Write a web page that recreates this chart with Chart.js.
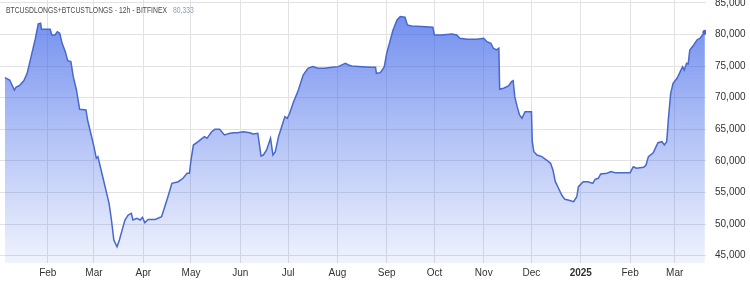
<!DOCTYPE html>
<html>
<head>
<meta charset="utf-8">
<script src="https://cdn.jsdelivr.net/npm/chart.js@4.4.1/dist/chart.umd.min.js"></script>
<style>
  html, body { margin: 0; padding: 0; background: #ffffff; }
  #wrap { width: 750px; height: 283px; position: relative; }
</style>
</head>
<body>
<div id="wrap"><canvas id="c" width="750" height="283"></canvas></div>
<script>
// ---- DATA ----
const seriesName = 'BTCUSDLONGS+BTCUSTLONGS - 12h - BITFINEX';
// days since 2024-01-01 (12h resolution)
const dayOffsets = [
  4, 7, 8.5, 10, 11, 13.5, 16, 18, 20.5, 23, 25, 26.5, 27, 32.5, 33.5, 35.5, 37, 38.5, 40, 42,
  43.5, 45.5, 47, 49, 51, 55, 56, 58, 60, 61.5, 62.5, 64, 66, 68, 69.5, 71, 72.5, 74.5, 76, 78,
  79.5, 81.5, 83.5, 84.5, 87, 89, 90.5, 92, 94, 98.5, 102.5, 104.5, 106.5, 109, 113, 116, 118.5, 120, 121, 122.5,
  125.5, 128, 129.5, 131, 134, 136, 139, 142, 145.5, 148, 150, 154, 158, 160, 163, 165, 166.5, 168.5, 171, 172.5,
  174, 176, 178, 180, 181.5, 183, 185.5, 188.5, 191.5, 194.5, 197.5, 201, 205, 209.5, 213.5, 218, 220, 222, 228.5, 234.5,
  237, 237.5, 240, 241.5, 242.5, 244, 246, 248, 250.5, 252.5, 255.5, 257, 259.5, 266, 273, 274, 278.5, 285, 288, 290,
  294.5, 300.5, 305, 307, 309.5, 311, 313, 314.5, 315, 317.5, 320.5, 322.5, 323.5, 324.5, 326, 327.5, 329, 331, 335, 335.5,
  336.5, 338.5, 341.5, 344.5, 347, 348.5, 350, 352, 354, 356, 358, 361.5, 363.5, 364.5, 367.5, 370.5, 373.5, 375, 377, 378.5,
  382.5, 385, 387.5, 397, 399, 401, 405.5, 407, 408.5, 411.5, 414.5, 417, 418.5, 420, 421, 422.5, 424, 426.5, 428.5, 430,
  431, 432.5, 433.5, 434.5, 437, 439, 441, 442.5, 444
];
const longs = [
  73170, 72800, 72000, 71200, 71650, 72000, 72700, 73850, 76500, 79130, 81660, 81770, 80820, 80820, 79920, 79920, 80440, 80190, 78600, 77280,
  75850, 75700, 73320, 71220, 68160, 68050, 66470, 64370, 62250, 60410, 60670, 59080, 56980, 54870, 53290, 50650, 47480, 46420, 47480, 49330,
  50650, 51440, 51700, 50650, 50910, 50650, 51070, 50220, 50750, 50750, 51170, 52750, 54330, 56450, 56710, 57250, 58040, 58040, 60140, 62510,
  63040, 63570, 63830, 63570, 64620, 65000, 65000, 64100, 64370, 64460, 64460, 64620, 64460, 64250, 64370, 60780, 60930, 61720, 63570, 60930,
  61450, 63830, 65410, 67000, 66740, 67530, 69370, 71220, 73590, 74650, 74910, 74650, 74650, 74810, 74910, 75440, 75170, 75010, 74910, 74810,
  74810, 73860, 73960, 74490, 74910, 77020, 78860, 80710, 82290, 82820, 82720, 81500, 81340, 81240, 81140, 79920, 79920, 80080, 79920, 79400,
  79240, 79240, 79400, 78860, 78610, 77820, 77550, 77820, 71330, 71490, 71850, 72530, 72690, 70160, 68580, 67260, 66740, 67780, 67780, 63040,
  61450, 60930, 60670, 60140, 59620, 58560, 56710, 55670, 54600, 53920, 53810, 53540, 54330, 55920, 56710, 56710, 56450, 57090, 57250, 57930,
  58040, 58300, 58130, 58130, 59080, 58830, 58990, 59350, 60670, 61290, 62880, 63040, 62520, 63040, 66470, 70690, 72280, 73070, 74110, 74910,
  74380, 75440, 75330, 77550, 78340, 79130, 79400, 79920, 80333
];
// month ticks (days since 2024-01-01)
const tickDays = [31, 60, 91, 121, 152, 182, 213, 244, 274, 305, 335, 366, 397, 425];
const tickLabels = ['Feb', 'Mar', 'Apr', 'May', 'Jun', 'Jul', 'Aug', 'Sep', 'Oct', 'Nov', 'Dec', '2025', 'Feb', 'Mar'];
const yTicks = [45000, 50000, 55000, 60000, 65000, 70000, 75000, 80000, 85000];

// ---- CHART ----
Chart.defaults.font.family = "'Liberation Sans', Arial, sans-serif";
const points = dayOffsets.map((d, i) => ({ x: d, y: longs[i] }));
const lastIndex = points.length - 1;
const lineColor = '#4868cc';
const fmt = v => Number(v).toLocaleString('en-US');

const titlePlugin = {
  id: 'titleText',
  afterDraw(chart) {
    const c = chart.ctx;
    c.save();
    c.font = "9px 'Liberation Sans', Arial, sans-serif";
    c.textBaseline = 'middle';
    const w = c.measureText(seriesName).width;
    const sx = 161 / w;
    c.translate(6, 11);
    c.scale(sx, 1);
    c.fillStyle = '#4a4a4a';
    c.fillText(seriesName, 0, 0);
    c.fillStyle = '#8f9dbb';
    c.fillText(fmt(longs[lastIndex]), w + 6 / sx, 0);
    c.restore();
  }
};

new Chart(document.getElementById('c'), {
  type: 'line',
  data: {
    datasets: [{
      data: points,
      borderColor: lineColor,
      borderWidth: 1.5,
      tension: 0,
      fill: 'start',
      backgroundColor: (ctx) => {
        const chart = ctx.chart;
        const area = chart.chartArea;
        if (!area) return 'rgba(70,110,235,0.4)';
        const g = chart.ctx.createLinearGradient(0, area.top, 0, area.bottom);
        g.addColorStop(0, 'rgba(60,100,232,0.76)');
        g.addColorStop(0.5, 'rgba(60,100,232,0.40)');
        g.addColorStop(1, 'rgba(60,100,232,0.08)');
        return g;
      },
      pointRadius: (ctx) => ctx.dataIndex === lastIndex ? 2.5 : 0,
      pointBackgroundColor: lineColor,
      pointBorderWidth: 0
    }]
  },
  options: {
    responsive: false,
    animation: false,
    devicePixelRatio: 1,
    layout: { padding: 0, autoPadding: false },
    plugins: { legend: { display: false }, tooltip: { enabled: false }, title: { display: false } },
    scales: {
      x: {
        type: 'linear',
        min: 0.95,
        max: 444.7,
        afterBuildTicks: (s) => { s.ticks = tickDays.map(v => ({ value: v })); },
        afterFit: (s) => { s.height = 20; s.paddingLeft = 0; s.paddingRight = 0; },
        ticks: {
          autoSkip: false,
          maxRotation: 0,
          padding: 4,
          color: '#333333',
          font: (c) => ({ size: 10, weight: (c.tick && c.tick.value === 366) ? 'bold' : 'normal' }),
          callback: (v, i) => tickLabels[i]
        },
        grid: { color: '#e2e2e2', drawTicks: false, lineWidth: 1 },
        border: { display: false }
      },
      y: {
        position: 'right',
        min: 43850,
        max: 85450,
        afterBuildTicks: (s) => { s.ticks = yTicks.map(v => ({ value: v })); },
        afterFit: (s) => { s.width = 44; s.paddingTop = 0; s.paddingBottom = 0; },
        ticks: {
          padding: 9,
          color: '#333333',
          font: { size: 10 },
          callback: (v) => fmt(v)
        },
        grid: { color: '#e2e2e2', drawTicks: false, lineWidth: 1 },
        border: { display: false }
      }
    }
  },
  plugins: [titlePlugin]
});
</script>
</body>
</html>
